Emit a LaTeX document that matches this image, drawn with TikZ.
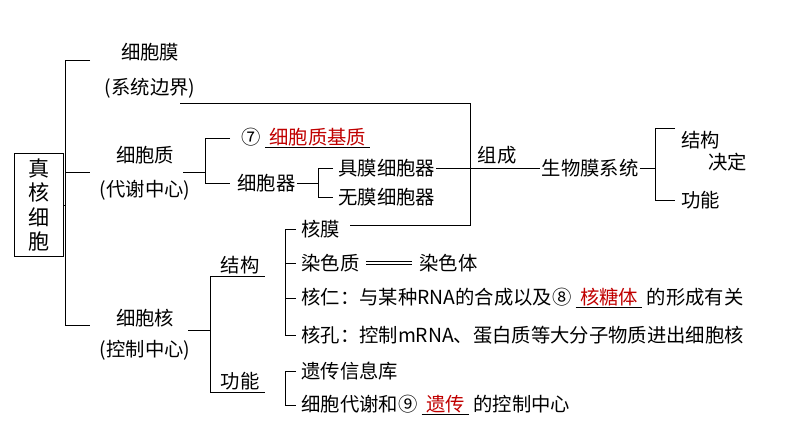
\documentclass[tikz,border=0pt]{standalone}
\usepackage{fontspec}
\setmainfont{Noto Sans CJK SC}
\usetikzlibrary{positioning}
\definecolor{fillred}{RGB}{192,0,0}
\newcommand{\gap}[1]{\underline{\ \textcolor{fillred}{#1}\ }}

\begin{document}
\begin{tikzpicture}[x=0.03cm, y=-0.03cm,
    txt/.style={inner sep=1pt, font=\fontsize{16.5}{19}\selectfont},
    item/.style={txt, anchor=west},
    brace/.style={line width=0.6pt}]
    \useasboundingbox (0,0) rectangle (794,447);

    % root
    \node[draw, txt, align=center, minimum width=42, inner sep=4pt, font=\fontsize{18}{21}\selectfont] (cell) at (39,205) {真\\核\\细\\胞};

    % first level
    \node[txt] (mem) at (150,52) {细胞膜};
    \node[txt] (memsub) at (150,88) {(系统边界)};
    \node[txt] (cyt) at (145,155) {细胞质};
    \node[txt] (cytsub) at (145,190) {(代谢中心)};
    \node[txt] (nuc) at (145,318) {细胞核};
    \node[txt] (nucsub) at (145,350) {(控制中心)};

    \draw[brace] (cell.east) -- (65,205);
    \draw[brace] (90,60) -- (65,60) -- (65,325) -- (90,325);
    \draw[brace] (65,172) -- (90,172);

    % cytoplasm
    \node[item] (matrix) at (240,138) {⑦ \gap{细胞质基质}};
    \node[item] (org) at (236,183) {细胞器};
    \draw[brace] (183,172) -- (205,172);
    \draw[brace] (230,138) -- (205,138) -- (205,183) -- (230,183);

    \node[item] (memorg) at (337,168) {具膜细胞器};
    \node[item] (noorg) at (337,197) {无膜细胞器};
    \draw[brace] (org.east) -- (318,183);
    \draw[brace] (333,168) -- (318,168) -- (318,197) -- (333,197);

    % biomembrane system
    \node[txt] (sys) at (590,168) {生物膜系统};
    \draw[brace] (memorg.east) -- (sys.west);
    \node[txt] (compose) at (497,155) {组成};
    \node[item] (struct1) at (680,140) {结构};
    \node[item] (decide) at (707,162) {决定};
    \node[item] (func1) at (680,200) {功能};
    \draw[brace] (sys.east) -- (655,168);
    \draw[brace] (675,128) -- (655,128) -- (655,200) -- (675,200);

    % nucleus
    \node[txt] (nstruct) at (240,265) {结构};
    \node[txt] (nfunc) at (240,381) {功能};
    \draw[brace] (188,330) -- (210,330);
    \draw[brace] (222,276) -- (210,276) -- (210,392) -- (222,392);
    \draw[brace] (210,276) -- (265,276);
    \draw[brace] (210,392) -- (265,392);

    \node[item] (env) at (300,229) {核膜};
    \node[item] (chrom) at (300,263) {染色质};
    \node[item] (chromo) at (418,263) {染色体};
    \node[item] (nucl) at (300,298) {核仁：与某种RNA的合成以及⑧ \gap{核糖体} 的形成有关};
    \node[item] (pore) at (300,335) {核孔：控制mRNA、蛋白质等大分子物质进出细胞核};
    \draw[brace] (296,229) -- (285,229) -- (285,335) -- (296,335);
    \draw[brace] (285,263) -- (296,263);
    \draw[brace] (285,298) -- (296,298);
    \draw[double, double distance=2pt] (chrom.east) ++(5,0) -- ([xshift=-5]chromo.west);

    \node[item] (lib) at (300,371) {遗传信息库};
    \node[item] (ctrl) at (300,405) {细胞代谢和⑨ \gap{遗传} 的控制中心};
    \draw[brace] (296,371) -- (285,371) -- (285,405) -- (296,405);

    % membrane link
    \draw[brace] (180,103) -- (470,103) -- (470,225) -- (350,225);
\end{tikzpicture}
\end{document}
